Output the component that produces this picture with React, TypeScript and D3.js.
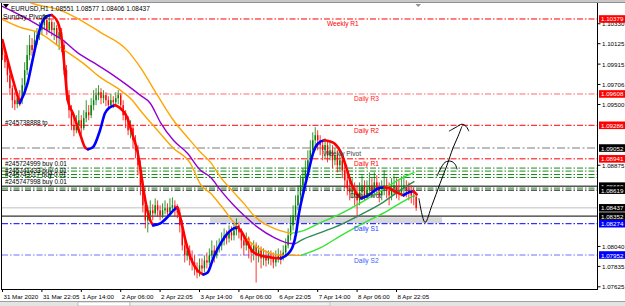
import React, { useEffect } from "react";
import * as d3 from "d3";

const W = 625;
const H = 306;

// ---- Data (EURUSD H1) ----
const firstOpen = 1.1008;
const closes = [
  1.10008,1.09935,1.09802,1.09668,1.09544,1.09503,1.09565,1.09544,1.09699,1.09853,
  1.10008,1.10111,1.10059,1.10162,1.10214,1.10265,1.10317,1.10368,1.10265,1.10347,
  1.10265,1.10286,1.10183,1.10244,1.10111,1.09853,1.09596,1.09441,1.09287,1.09235,
  1.09287,1.09338,1.09256,1.09359,1.09420,1.09390,1.09493,1.09544,1.09596,1.09626,
  1.09565,1.09596,1.09544,1.09493,1.09544,1.09524,1.09565,1.09596,1.09493,1.09390,
  1.09338,1.09235,1.09256,1.09132,1.09029,1.08875,1.08669,1.08463,1.08308,1.08360,
  1.08411,1.08380,1.08463,1.08411,1.08360,1.08411,1.08432,1.08390,1.08442,1.08463,
  1.08411,1.08390,1.08257,1.08051,1.07948,1.07999,1.07917,1.07875,1.07814,1.07772,
  1.07845,1.07814,1.07896,1.07875,1.07948,1.07999,1.07948,1.08020,1.08051,1.08102,
  1.08154,1.08123,1.08184,1.08154,1.08205,1.08257,1.08184,1.08102,1.08051,1.08123,
  1.08020,1.07978,1.08051,1.07948,1.07999,1.07917,1.07948,1.07896,1.07937,1.07917,
  1.07875,1.07917,1.07948,1.07917,1.07978,1.08051,1.08154,1.08257,1.08360,1.08463,
  1.08566,1.08669,1.08741,1.08823,1.08926,1.09029,1.09132,1.09184,1.09132,1.09081,
  1.09029,1.09081,1.08978,1.09029,1.08926,1.08978,1.08875,1.08926,1.08823,1.08720,
  1.08638,1.08596,1.08617,1.08566,1.08514,1.08596,1.08669,1.08566,1.08617,1.08669,
  1.08617,1.08699,1.08638,1.08566,1.08617,1.08669,1.08617,1.08566,1.08638,1.08669,
  1.08617,1.08596,1.08638,1.08669,1.08617,1.08596,1.08566,1.08551,1.08437,
];
const highs = [
  1.10111,1.10059,1.09977,1.09853,1.09699,1.09626,1.09596,1.09647,1.09771,1.09935,
  1.10111,1.10214,1.10183,1.10244,1.10286,1.10347,1.10389,1.10430,1.10409,1.10420,
  1.10368,1.10347,1.10317,1.10286,1.10286,1.10141,1.09905,1.09647,1.09493,1.09359,
  1.09390,1.09441,1.09390,1.09441,1.09544,1.09493,1.09565,1.09647,1.09668,1.09699,
  1.09668,1.09647,1.09626,1.09585,1.09606,1.09585,1.09626,1.09647,1.09616,1.09544,
  1.09441,1.09379,1.09338,1.09287,1.09184,1.09081,1.08926,1.08720,1.08514,1.08463,
  1.08514,1.08473,1.08535,1.08514,1.08463,1.08483,1.08514,1.08483,1.08535,1.08545,
  1.08514,1.08473,1.08432,1.08308,1.08102,1.08061,1.08051,1.07999,1.07948,1.07875,
  1.07917,1.07917,1.07948,1.07978,1.08020,1.08102,1.08051,1.08102,1.08123,1.08184,
  1.08226,1.08205,1.08257,1.08246,1.08287,1.08329,1.08287,1.08226,1.08154,1.08184,
  1.08143,1.08081,1.08102,1.08081,1.08051,1.08040,1.08020,1.07999,1.07999,1.07999,
  1.07978,1.07999,1.08020,1.07999,1.08051,1.08123,1.08226,1.08360,1.08463,1.08566,
  1.08669,1.08772,1.08844,1.08926,1.09029,1.09132,1.09214,1.09266,1.09235,1.09184,
  1.09132,1.09153,1.09132,1.09111,1.09081,1.09050,1.09029,1.09008,1.08978,1.08875,
  1.08802,1.08720,1.08741,1.08699,1.08669,1.08699,1.08772,1.08720,1.08720,1.08802,
  1.08741,1.08802,1.08772,1.08699,1.08720,1.08823,1.08741,1.08699,1.08741,1.08772,
  1.08741,1.08720,1.08761,1.08772,1.08720,1.08699,1.08669,1.08648,1.08577,
];
const lows = [
  1.09956,1.09874,1.09729,1.09596,1.09462,1.09441,1.09462,1.09482,1.09503,1.09647,
  1.09802,1.09956,1.09997,1.10008,1.10111,1.10162,1.10214,1.10265,1.10214,1.10234,
  1.10203,1.10162,1.10111,1.10059,1.10038,1.09802,1.09544,1.09359,1.09235,1.09173,
  1.09204,1.09256,1.09194,1.09235,1.09317,1.09338,1.09359,1.09441,1.09493,1.09544,
  1.09503,1.09513,1.09482,1.09441,1.09462,1.09462,1.09482,1.09503,1.09441,1.09338,
  1.09256,1.09184,1.09153,1.09050,1.08947,1.08772,1.08566,1.08390,1.08226,1.08184,
  1.08308,1.08308,1.08360,1.08349,1.08308,1.08329,1.08370,1.08329,1.08370,1.08390,
  1.08349,1.08329,1.08184,1.07999,1.07875,1.07896,1.07845,1.07793,1.07742,1.07711,
  1.07731,1.07752,1.07772,1.07814,1.07845,1.07917,1.07875,1.07917,1.07978,1.07999,
  1.08051,1.08061,1.08081,1.08102,1.08102,1.08154,1.08123,1.08020,1.07948,1.07999,
  1.07917,1.07875,1.07896,1.07669,1.07875,1.07814,1.07845,1.07834,1.07855,1.07845,
  1.07814,1.07834,1.07875,1.07855,1.07896,1.07937,1.08020,1.08102,1.08205,1.08308,
  1.08411,1.08514,1.08596,1.08669,1.08772,1.08875,1.08978,1.09029,1.09029,1.08978,
  1.08926,1.08947,1.08905,1.08926,1.08844,1.08875,1.08802,1.08823,1.08741,1.08638,
  1.08566,1.08514,1.08535,1.08463,1.08339,1.08463,1.08535,1.08514,1.08535,1.08566,
  1.08545,1.08566,1.08566,1.08493,1.08514,1.08566,1.08535,1.08463,1.08514,1.08566,
  1.08535,1.08514,1.08555,1.08566,1.08545,1.08514,1.08483,1.08463,1.08406,
];

// Hull-type MA keypoints (bar index, value)
const hullBars = [0,3.7,7,10.2,12.2,14.3,16,18,20,22.4,24.1,25.3,26.5,28.6,31.4,33.5,34.7,36.7,39.6,41.6,43.7,45.7,47.8,50.6,53.1,54.7,55.9,57.1,58.8,60,61.2,64.1,66.9,69.4,71,72.2,74.3,76.3,79.2,81.6,83.3,85.7,88.6,91.4,93.9,95.5,96.7,99.6,102,104.9,109,113.1,117.1,119.2,120.4,122.4,124.1,126.1,128.2,130.6,132.7,134.7,137.6,139.6,141.6,143.7,145.7,148.6,152.7,155.1,157.1,160,162.9,164.1,166.9,168.2];
const hullVals = [1.10162,1.09802,1.09513,1.09719,1.09956,1.10193,1.10337,1.10409,1.10420,1.10347,1.10162,1.09853,1.09544,1.09410,1.09204,1.09060,1.09039,1.09060,1.09235,1.09410,1.09472,1.09493,1.09462,1.09369,1.09163,1.09029,1.08854,1.08648,1.08411,1.08308,1.08257,1.08277,1.08339,1.08411,1.08442,1.08339,1.08102,1.07927,1.07793,1.07752,1.07772,1.07927,1.08071,1.08174,1.08226,1.08236,1.08205,1.08071,1.07978,1.07948,1.07927,1.07917,1.07999,1.08174,1.08380,1.08617,1.08792,1.08998,1.09101,1.09132,1.09122,1.09101,1.08998,1.08854,1.08689,1.08586,1.08535,1.08566,1.08638,1.08648,1.08638,1.08596,1.08566,1.08586,1.08607,1.08576];

// Channel: middle line (falling part / rising part)
const midDownBars = [-1.2,11,19.2,24.5,30.2,36.7,44.9,50.6,55.9,60,64.1,69.4,75.1,80.4,84.5,88.6,93.9,98,103.7,110.2,117.1,119.2];
const midDownVals = [1.10523,1.10368,1.10244,1.10162,1.10038,1.09935,1.09802,1.09699,1.09596,1.09513,1.09317,1.09132,1.08998,1.08823,1.08751,1.08617,1.08463,1.08360,1.08236,1.08133,1.08071,1.08071];
const midUpBars = [119.2,121.2,129.4,137.6,145.7,153.9,162,167.3];
const midUpVals = [1.08071,1.08102,1.08184,1.08267,1.08370,1.08483,1.08627,1.08710];
// Channel: upper line
const upDownBars = [9,11.8,23.3,30.2,39.6,50.6,55.9,62.9,69.4,75.1,80.4,84.5,88.6,93.9,98,102,106.1,110.2,117.1];
const upDownVals = [1.10574,1.10543,1.10471,1.10389,1.10244,1.10059,1.09884,1.09596,1.09338,1.09163,1.09008,1.08905,1.08751,1.08596,1.08483,1.08360,1.08277,1.08226,1.08174];
const upUpBars = [117.1,121.2,129.4,137.6,145.7,153.9,162,167.3];
const upUpVals = [1.08174,1.08195,1.08287,1.08380,1.08493,1.08617,1.08741,1.08802];
// Channel: lower line
const lowDownBars = [-1.2,6.9,15.1,23.3,32.7,39.6,47.8,52.7,55.9,62.9,69.4,76.3,80.4,84.5,88.6,93.9,100.8,107.8,114.3,121.2];
const lowDownVals = [1.10389,1.10296,1.10234,1.10090,1.09925,1.09781,1.09647,1.09544,1.09441,1.09235,1.09050,1.08895,1.08679,1.08586,1.08463,1.08287,1.08081,1.07978,1.07948,1.07948];
const lowUpBars = [121.2,129.4,137.6,145.7,156.7,162,167.3];
const lowUpVals = [1.07948,1.08030,1.08154,1.08267,1.08411,1.08493,1.08566];

// Pivot levels
const levelNames = ["Weekly R1","Daily R3","Daily R2","Weekly Pivot","Daily R1","Daily Pivot","Daily S1","Daily S2"];
const levelPrices = [1.10379,1.09608,1.09286,1.09052,1.08941,1.08619,1.08274,1.07952];

// Order lines
const orderLinePrices = [1.08846,1.08815,1.08780,1.08749,1.08640];
const orderLabels = ["#245738888 tp","#245724999 buy 0.01","#245741433 buy 0.01","#245743117 buy 0.01","#245747998 buy 0.01"];
const orderLabelPrices = [1.09310,1.08895,1.08818,1.08777,1.08710];
const solidLinePrices = [1.08660,1.08352];
const bidPrice = 1.08437;
const zone = { fromBar: 84.3, toBar: 178.5, top: 1.0834, bottom: 1.0828 };

// Axis
const priceTicks = [1.1033,1.10125,1.09915,1.09706,1.095,1.08875,1.0804,1.07835,1.07625];
const boxPrices = [1.10379,1.09608,1.09286,1.09052,1.08941,1.0866,1.08619,1.08437,1.08352,1.08274,1.07952];
const boxKinds = ["r","r","r","k","r","k","k","k","k","b","b"];
const timeLabels = ["31 Mar 2020","31 Mar 22:05","1 Apr 14:00","2 Apr 06:00","2 Apr 22:05","3 Apr 14:00","6 Apr 06:00","6 Apr 22:05","7 Apr 14:00","8 Apr 06:00","8 Apr 22:05"];
const timeLabelBars = [0,16,32,48,64,80,96,112,128,144,160];

// Hand-drawn arrows (bar index, price)
const arrowMain: [number, number][] = [[169.1,1.08535],[171.6,1.08287],[174.4,1.08463],[177.7,1.08689],[180.5,1.08875],[182.9,1.0905],[185,1.09173],[186.6,1.09276]];
const arrowHead1: [number, number][] = [[176.4,1.08761],[179.7,1.08905],[182.1,1.08916],[183.8,1.08885],[184.6,1.08833]];
const arrowHead2: [number, number][] = [[181.3,1.09225],[184.2,1.09266],[186.6,1.09297],[188.2,1.09276],[189.4,1.09225]];

// ---- scales ----
const x = d3.scaleLinear().domain([0, 160]).range([2.5, 396.5]);
const y = d3.scaleLinear().domain([1.076024, 1.105435]).range([289, 3]);

const FONT = "'Liberation Sans', Arial, sans-serif";
const levelStyle: Record<string, { color: string; text: string; w: number; dash: string; lx: number }> = {
  "Weekly R1": { color: "#ff0000", text: "#ff0000", w: 1, dash: "6,2,1.5,2", lx: 327 },
  "Daily R3": { color: "#ff6a6a", text: "#ff2020", w: 1, dash: "6,2,1.5,2", lx: 354 },
  "Daily R2": { color: "#ff0000", text: "#ff0000", w: 1, dash: "6,2,1.5,2", lx: 354 },
  "Weekly Pivot": { color: "#a8a8a8", text: "#404040", w: 1.6, dash: "8,2.5,2,2.5", lx: 323 },
  "Daily R1": { color: "#ff0000", text: "#ff0000", w: 1, dash: "6,2,1.5,2", lx: 354 },
  "Daily Pivot": { color: "#000000", text: "#202020", w: 1, dash: "6,2,1.5,2", lx: 350 },
  "Daily S1": { color: "#0000ff", text: "#2040ff", w: 1, dash: "6,2,1.5,2", lx: 354 },
  "Daily S2": { color: "#7070ff", text: "#4060ff", w: 1, dash: "6,2,1.5,2", lx: 354 },
};

type P = [number, number];
const zip = (a: number[], b: number[]): P[] => a.map((d, i) => [d, b[i]]);
const lineGen = d3.line<P>().x((d) => x(d[0])).y((d) => y(d[1])).curve(d3.curveMonotoneX);
const lineCR = d3.line<P>().x((d) => x(d[0])).y((d) => y(d[1])).curve(d3.curveCatmullRom);

function splitRuns(pts: P[]) {
  const out: { dir: number; pts: P[] }[] = [];
  let dir = Math.sign(pts[1][1] - pts[0][1]);
  let cur: P[] = [pts[0]];
  for (let k = 1; k < pts.length; k++) {
    const d = Math.sign(pts[k][1] - pts[k - 1][1]);
    if (d !== 0 && d !== dir) {
      out.push({ dir, pts: cur });
      cur = [pts[k - 1]];
      dir = d;
    }
    cur.push(pts[k]);
  }
  out.push({ dir, pts: cur });
  return out;
}

export default function App() {
  useEffect(() => {
    document.body.style.margin = "0";
  }, []);

  const bars = closes.map((c, i) => ({
    i,
    o: i === 0 ? firstOpen : closes[i - 1],
    c,
    h: highs[i],
    l: lows[i],
  }));
  const hullRuns = splitRuns(zip(hullBars, hullVals));
  const last = bars[bars.length - 1];
  const header = `EURUSD,H1  ${last.o.toFixed(5)} ${last.h.toFixed(5)} ${last.l.toFixed(5)} ${last.c.toFixed(5)}`;
  const plotL = 2, plotR = 597.5, plotT = 3, plotB = 289;

  return (
    <svg width={W} height={H} style={{ position: "fixed", left: 0, top: 0, background: "#fff" }} fontFamily={FONT}>
      <defs>
        <clipPath id="plot">
          <rect x={plotL} y={plotT} width={plotR - plotL} height={plotB - plotT} />
        </clipPath>
      </defs>
      <rect x={0} y={0} width={W} height={H} fill="#ffffff" />
      <rect x={0} y={0} width={W} height={3} fill="#c8c8c8" />
      <line x1={0} x2={W} y1={2.5} y2={2.5} stroke="#909090" />

      <g clipPath="url(#plot)">
        <rect
          x={x(zone.fromBar)}
          width={x(zone.toBar) - x(zone.fromBar)}
          y={y(zone.top)}
          height={y(zone.bottom) - y(zone.top)}
          fill="#d6d6d6"
        />
        <line x1={plotL} x2={plotR} y1={y(bidPrice)} y2={y(bidPrice)} stroke="#c0c0c0" strokeWidth={1} />
        {orderLinePrices.map((p, k) => (
          <line key={"ol" + k} x1={plotL} x2={plotR} y1={y(p)} y2={y(p)} stroke="#1a8a1a" strokeWidth={1} strokeDasharray="6,2,1.5,2" />
        ))}
        {levelNames.map((n, k) => {
          const s = levelStyle[n];
          return (
            <line key={"lv" + k} x1={plotL} x2={plotR} y1={y(levelPrices[k])} y2={y(levelPrices[k])} stroke={s.color} strokeWidth={s.w} strokeDasharray={s.dash} />
          );
        })}
        {solidLinePrices.map((p, k) => (
          <line key={"sl" + k} x1={plotL} x2={plotR} y1={y(p)} y2={y(p)} stroke="#000" strokeWidth={1} />
        ))}

        {bars.map((b) => {
          const up = b.c >= b.o;
          const col = up ? "#008000" : "#ff0000";
          const cx = x(b.i);
          const top = y(Math.max(b.o, b.c));
          const bot = y(Math.min(b.o, b.c));
          return (
            <g key={"b" + b.i}>
              <line x1={cx} x2={cx} y1={y(Math.max(b.h, b.o, b.c))} y2={y(Math.min(b.l, b.o, b.c))} stroke={col} strokeWidth={0.8} />
              <rect x={cx - 0.7} width={1.4} y={top} height={Math.max(0.8, bot - top)} fill={col} />
            </g>
          );
        })}

        <path d={lineGen(zip(upDownBars, upDownVals)) || ""} fill="none" stroke="#ffa500" strokeWidth={1.4} />
        <path d={lineGen(zip(lowDownBars, lowDownVals)) || ""} fill="none" stroke="#ffa500" strokeWidth={1.4} />
        <path d={lineGen(zip(midDownBars, midDownVals)) || ""} fill="none" stroke="#9400d3" strokeWidth={1.4} />
        <path d={lineGen(zip(upUpBars, upUpVals)) || ""} fill="none" stroke="#32e632" strokeWidth={1.4} />
        <path d={lineGen(zip(lowUpBars, lowUpVals)) || ""} fill="none" stroke="#32e632" strokeWidth={1.4} />
        <path d={lineGen(zip(midUpBars, midUpVals)) || ""} fill="none" stroke="#2e8b57" strokeWidth={1.4} />

        {hullRuns.map((r, k) => (
          <path key={"h" + k} d={lineGen(r.pts) || ""} fill="none" stroke={r.dir > 0 ? "#0000ff" : "#ff0000"} strokeWidth={2.6} strokeLinecap="round" />
        ))}

        <path d={lineCR(arrowMain) || ""} fill="none" stroke="#000" strokeWidth={1} />
        <path d={lineCR(arrowHead1) || ""} fill="none" stroke="#000" strokeWidth={1} />
        <path d={lineCR(arrowHead2) || ""} fill="none" stroke="#000" strokeWidth={1} />

        {levelNames.map((n, k) => {
          const s = levelStyle[n];
          return (
            <text key={"lt" + k} x={s.lx} y={y(levelPrices[k]) + 5} fontSize={6.6} fill={s.text} dominantBaseline="central">
              {n}
            </text>
          );
        })}
        {orderLabels.map((t, k) => (
          <text key={"ot" + k} x={5} y={y(orderLabelPrices[k])} fontSize={6.4} fill="#000" dominantBaseline="central">
            {t}
          </text>
        ))}
        <text x={3} y={16} fontSize={7} fill="#000" dominantBaseline="central">Sunday Pivots</text>
      </g>

      <path d="M3,4 L9,4 L6,8 Z" fill="#000" />
      <text x={11} y={8} fontSize={6.5} fill="#000" dominantBaseline="central">{header}</text>
      <path d="M415.5,4 L421,4 L418.2,7 Z" fill="#909090" />

      <line x1={1.5} x2={1.5} y1={plotT} y2={plotB} stroke="#000" />
      <line x1={1} x2={plotR} y1={plotB + 0.5} y2={plotB + 0.5} stroke="#000" />
      <line x1={plotR} x2={plotR} y1={plotT} y2={plotB + 1} stroke="#000" />

      {priceTicks.map((p, k) => (
        <g key={"pt" + k}>
          <line x1={plotR} x2={plotR + 3} y1={y(p)} y2={y(p)} stroke="#000" />
          <text x={602} y={y(p)} fontSize={6.2} fill="#000" dominantBaseline="central">
            {p.toFixed(5)}
          </text>
        </g>
      ))}
      {boxPrices.map((p, k) => {
        const kind = boxKinds[k];
        const fill = kind === "r" ? "#ff0000" : kind === "b" ? "#0000ff" : "#000000";
        return (
          <g key={"bx" + k}>
            <rect x={599} y={y(p) - 3.8} width={26} height={7.6} fill={fill} />
            <text x={601} y={y(p)} fontSize={6.2} fill="#fff" dominantBaseline="central">
              {p.toFixed(5)}
            </text>
          </g>
        );
      })}

      {timeLabels.map((t, k) => (
        <g key={"tl" + k}>
          <line x1={x(timeLabelBars[k])} x2={x(timeLabelBars[k])} y1={plotB} y2={plotB + 3} stroke="#000" />
          <text x={x(timeLabelBars[k]) + 1} y={296} fontSize={6.2} fill="#000" dominantBaseline="central">
            {t}
          </text>
        </g>
      ))}

      <rect x={0} y={301} width={W} height={5} fill="#e4e4e4" />
      <line x1={0} x2={W} y1={301.5} y2={301.5} stroke="#a0a0a0" />
      <rect x={78} y={302} width={52} height={4} fill="#ffffff" stroke="#a0a0a0" strokeWidth={0.6} />
      <rect x={130} y={302} width={200} height={4} fill="#f0f0f0" stroke="#b0b0b0" strokeWidth={0.6} />
    </svg>
  );
}
